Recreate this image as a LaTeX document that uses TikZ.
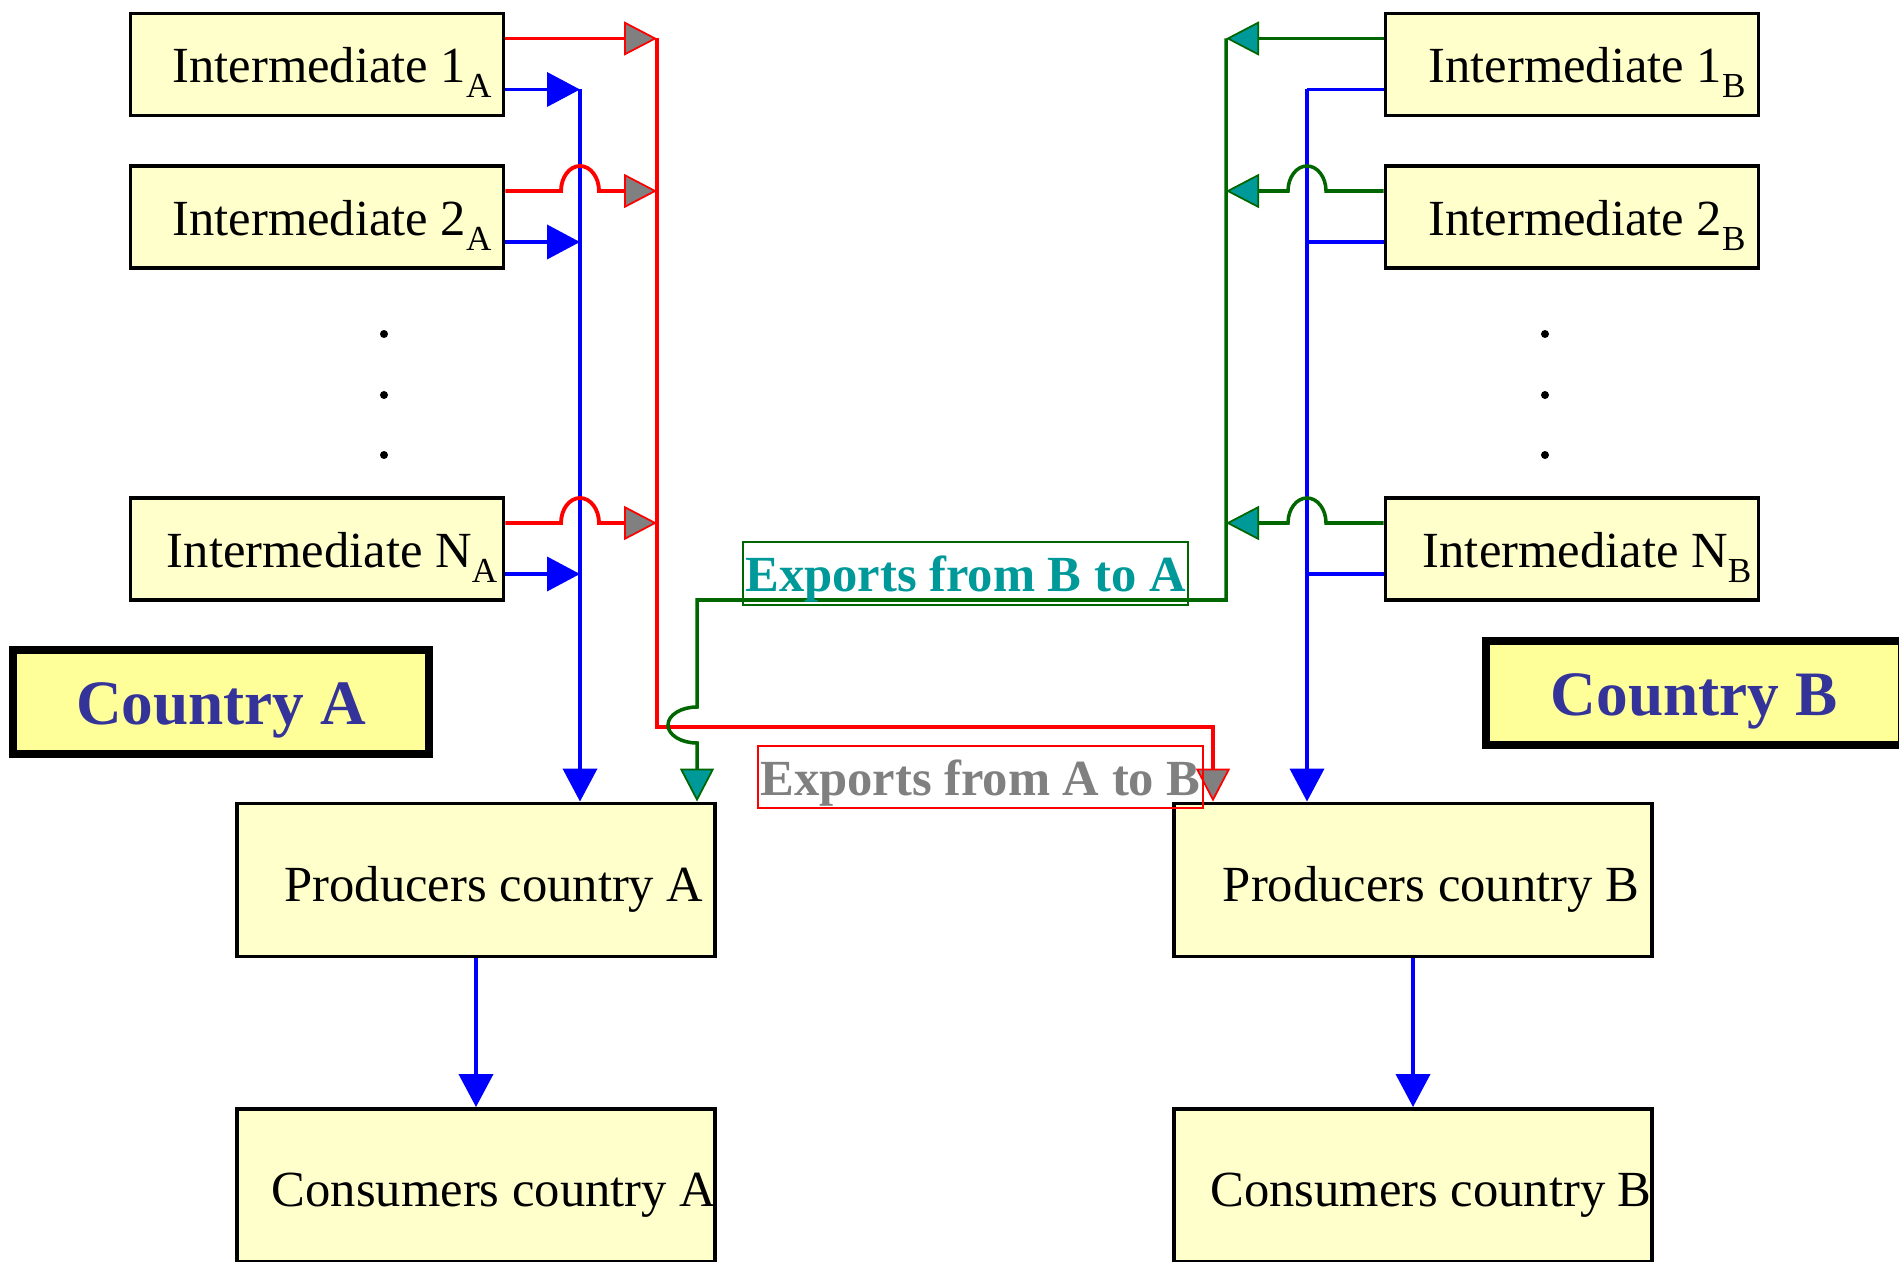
\documentclass[tikz,border=0pt]{standalone}
\usepackage{fontspec}
\setmainfont{Liberation Serif}
\usetikzlibrary{arrows.meta,calc}
\definecolor{cBox}{HTML}{FFFFCC}
\definecolor{cCtry}{HTML}{FFFF99}
\definecolor{cNavy}{HTML}{333399}
\definecolor{cRed}{HTML}{FF0000}
\definecolor{cBlue}{HTML}{0000FF}
\definecolor{cGreen}{HTML}{006600}
\definecolor{cTeal}{HTML}{009999}
\definecolor{cGray}{HTML}{808080}
\newcommand{\boxfont}{\fontsize{14.4}{16}\selectfont}
\newcommand{\lowsub}[1]{\raisebox{-0.15cm}{\fontsize{10}{11}\selectfont #1}}
\tikzset{
  ibox/.style={draw, line width=1.1pt, fill=cBox, font=\boxfont, inner sep=0pt,
    minimum width=3.73cm, minimum height=1.02cm, text height=0.55cm, text depth=0.18cm,
    execute at begin node=\hspace*{0.15cm}, execute at end node=\hspace*{-0.15cm}},
  pbox/.style={draw, line width=1.1pt, fill=cBox, font=\boxfont, inner sep=0pt,
    minimum width=4.78cm, minimum height=1.53cm, text height=0.6cm, text depth=0.18cm,
    execute at begin node=\hspace*{0.18cm}, execute at end node=\hspace*{-0.18cm}},
  ctry/.style={draw, line width=2.3pt, fill=cCtry, text=cNavy, inner sep=0pt,
    font=\fontsize{18}{20}\selectfont\bfseries, minimum width=4.16cm, minimum height=1.04cm,
    text height=0.45cm, text depth=0cm},
  expo/.style={line width=0.4pt, inner sep=0pt, font=\boxfont\bfseries,
    minimum width=4.45cm, minimum height=0.62cm, text height=0.36cm, text depth=0cm},
  redln/.style={draw=cRed, line width=1.1pt},
  redarr/.style={redln, -{Triangle[length=3.3mm, width=3.4mm, fill=cGray, line width=0.5pt]}},
  bluln/.style={draw=cBlue, line width=1.1pt},
  bluarr/.style={bluln, -{Triangle[length=3.3mm, width=3.4mm]}},
  grnln/.style={draw=cGreen, line width=1pt},
  grnarr/.style={grnln, -{Triangle[length=3.3mm, width=3.4mm, fill=cTeal, line width=0.5pt]}},
}
\begin{document}
\begin{tikzpicture}
  \useasboundingbox (0,0) rectangle (18.99,-12.62);
  % intermediate goods, country A and B
  \node[ibox] (intA1) at (3.17,-0.645) {Intermediate 1\lowsub{A}};
  \node[ibox] (intA2) at (3.17,-2.17) {Intermediate 2\lowsub{A}};
  \node[ibox] (intAN) at (3.17,-5.49) {Intermediate N\lowsub{A}};
  \node[ibox] (intB1) at (15.72,-0.645) {Intermediate 1\lowsub{B}};
  \node[ibox] (intB2) at (15.72,-2.17) {Intermediate 2\lowsub{B}};
  \node[ibox] (intBN) at (15.72,-5.49) {Intermediate N\lowsub{B}};
  \foreach \y in {-3.34,-3.95,-4.55} {
    \fill (3.84,\y) circle (0.04);
    \fill (15.45,\y) circle (0.04);
  }
  % producers and consumers
  \node[pbox] (prodA) at (4.76,-8.80) {Producers country A};
  \node[pbox] (consA) at (4.76,-11.855) {Consumers country A};
  \node[pbox] (prodB) at (14.13,-8.80) {Producers country B};
  \node[pbox] (consB) at (14.13,-11.855) {Consumers country B};
  \node[ctry] (ctryA) at (2.21,-7.02) {Country A};
  \node[ctry] (ctryB) at (16.94,-6.93) {Country B};
  % ports and trunk lines
  \foreach \k in {1,2,N} {
    \coordinate (redA\k) at ([yshift=2.6mm]intA\k.east);
    \coordinate (bluA\k) at ([yshift=-2.5mm]intA\k.east);
    \coordinate (grnB\k) at ([yshift=2.6mm]intB\k.west);
    \coordinate (bluB\k) at ([yshift=-2.5mm]intB\k.west);
  }
  \coordinate (blutrA) at (5.80,0);
  \coordinate (blutrB) at (13.07,0);
  \coordinate (redtr) at (6.57,-7.27);
  \coordinate (redin) at (12.13,-7.27);
  \coordinate (grntr) at (12.26,-6.00);
  \coordinate (grnin) at (6.97,-6.00);
  \coordinate (grnhop) at (6.97,-7.07);
  % domestic flows
  \foreach \k in {1,2,N} {
    \draw[bluarr] (bluA\k) -- (bluA\k -| blutrA);
    \draw[bluln] (bluB\k) -- (bluB\k -| blutrB);
  }
  \draw[bluarr] (bluA1 -| blutrA) -- (prodA.north -| blutrA);
  \draw[bluarr] (bluB1 -| blutrB) -- (prodB.north -| blutrB);
  \draw[bluarr] (prodA) -- (consA);
  \draw[bluarr] (prodB) -- (consB);
  % exports A to B
  \draw[redarr] (redA1) -- (redA1 -| redtr);
  \foreach \k in {2,N}
    \draw[redarr] (redA\k) -- ($(redA\k -| blutrA)+(-0.19,0)$)
      arc[start angle=180, end angle=0, x radius=0.19cm, y radius=0.25cm] -- (redA\k -| redtr);
  \draw[redarr] (redA1 -| redtr) -- (redtr) -- (redin) -- (prodB.north -| redin);
  % exports B to A
  \draw[grnarr] (grnB1) -- (grnB1 -| grntr);
  \foreach \k in {2,N}
    \draw[grnarr] (grnB\k) -- ($(grnB\k -| blutrB)+(0.19,0)$)
      arc[start angle=0, end angle=180, x radius=0.19cm, y radius=0.25cm] -- (grnB\k -| grntr);
  \draw[grnarr] (grnB1 -| grntr) -- (grntr) -- (grnin) -- (grnhop)
    arc[start angle=90, end angle=270, x radius=0.29cm, y radius=0.18cm] -- (prodA.north -| grnhop);
  % labels
  \node[expo, draw=cGreen, text=cTeal, minimum height=0.63cm] (lblBA) at (9.655,-5.735) {Exports from B to A};
  \node[expo, draw=cRed, text=cGray] (lblAB) at (9.805,-7.77) {Exports from A to B};
\end{tikzpicture}
\end{document}
